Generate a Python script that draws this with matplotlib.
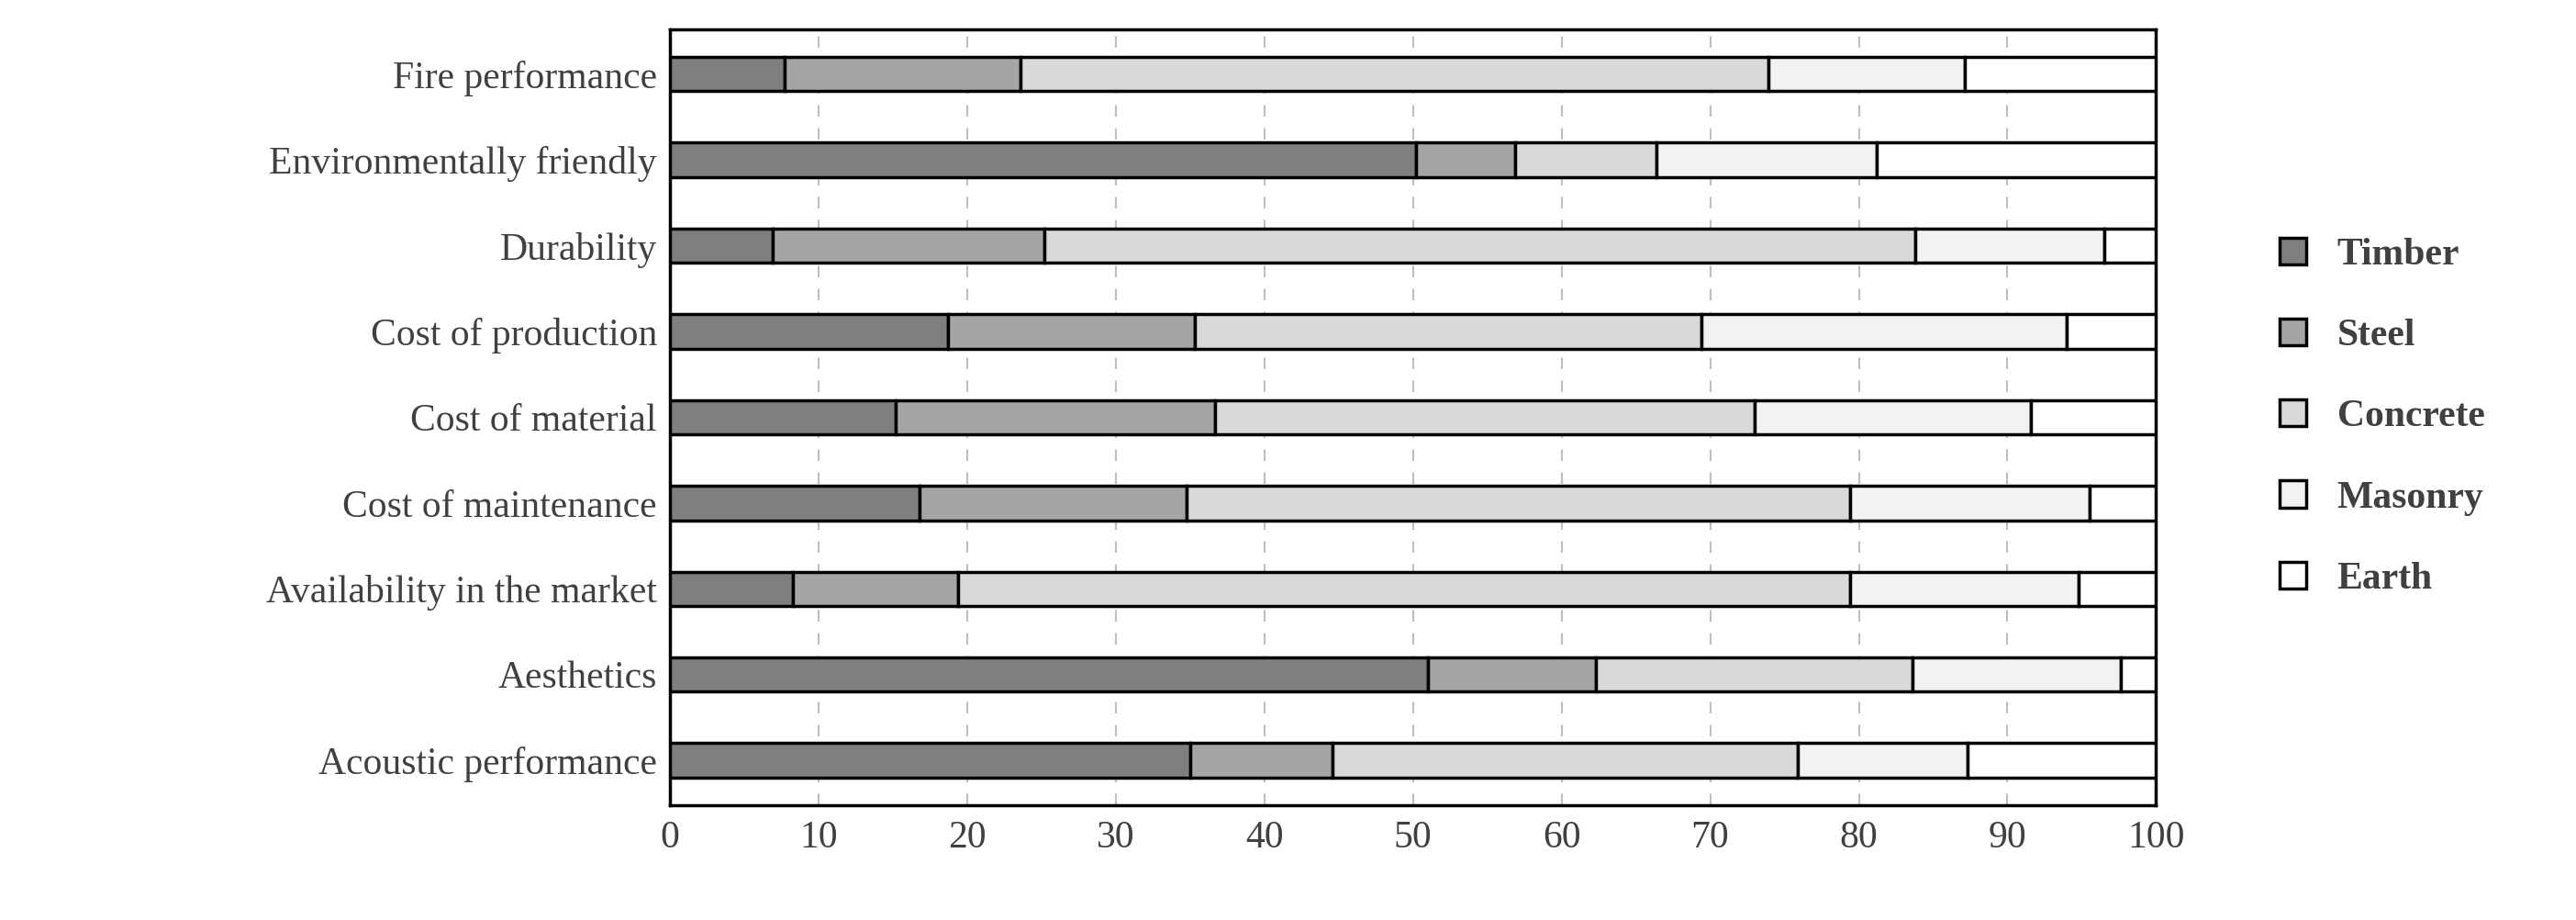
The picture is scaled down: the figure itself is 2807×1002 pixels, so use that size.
import numpy as np
import matplotlib.pyplot as plt

plt.rcParams['font.family'] = ['Liberation Serif', 'DejaVu Serif']

categories = ["Acoustic performance", "Aesthetics", "Availability in the market",
              "Cost of maintenance", "Cost of material", "Cost of production",
              "Durability", "Environmentally friendly", "Fire performance"]
# cumulative boundaries, converted to shares
timber = [35.0, 51.0, 8.3, 16.8, 15.2, 18.7, 6.9, 50.2, 7.7]
steel = [9.6, 11.3, 11.1, 18.0, 21.5, 16.6, 18.3, 6.7, 15.9]
concrete = [31.3, 21.3, 60.0, 44.6, 36.3, 34.1, 58.6, 9.5, 50.3]
masonry = [11.4, 14.0, 15.4, 16.1, 18.6, 24.6, 12.7, 14.8, 13.2]
earth = [12.7, 2.4, 5.2, 4.5, 8.4, 6.0, 3.5, 18.8, 12.9]

series = [("Timber", timber, "#7f7f7f"), ("Steel", steel, "#a5a5a5"),
          ("Concrete", concrete, "#d9d9d9"), ("Masonry", masonry, "#f2f2f2"),
          ("Earth", earth, "#ffffff")]

fig = plt.figure(figsize=(28.07, 10.02), dpi=100)
ax = fig.add_axes([0.260, 0.125, 0.577, 0.843])
y = np.arange(len(categories))
left = np.zeros(len(categories))
for name, vals, col in series:
    ax.barh(y, vals, left=left, height=0.4, color=col, edgecolor='black',
            linewidth=2.5, label=name, zorder=3)
    left += np.array(vals)

ax.set_xlim(0, 100)
ax.set_ylim(-0.52, 8.52)
ax.set_yticks(y)
ax.set_yticklabels(categories, fontsize=30, color='#404040')
ax.set_xticks(range(0, 101, 10))
ax.tick_params(axis='x', labelsize=30, labelcolor='#404040', length=0, pad=12)
ax.tick_params(axis='y', length=0, pad=10)
ax.xaxis.grid(True, linestyle=(0, (6, 6)), color='#bfbfbf', linewidth=1.5, zorder=0)
for s in ax.spines.values():
    s.set_linewidth(2.5)

leg = ax.legend(loc='center left', bbox_to_anchor=(1.06, 0.5), frameon=False,
                handlelength=0.7, handleheight=0.7, labelspacing=1.2,
                prop={'size': 30, 'weight': 'bold'})
for t in leg.get_texts():
    t.set_color('#404040')

fig.savefig('out.png', dpi=100)
